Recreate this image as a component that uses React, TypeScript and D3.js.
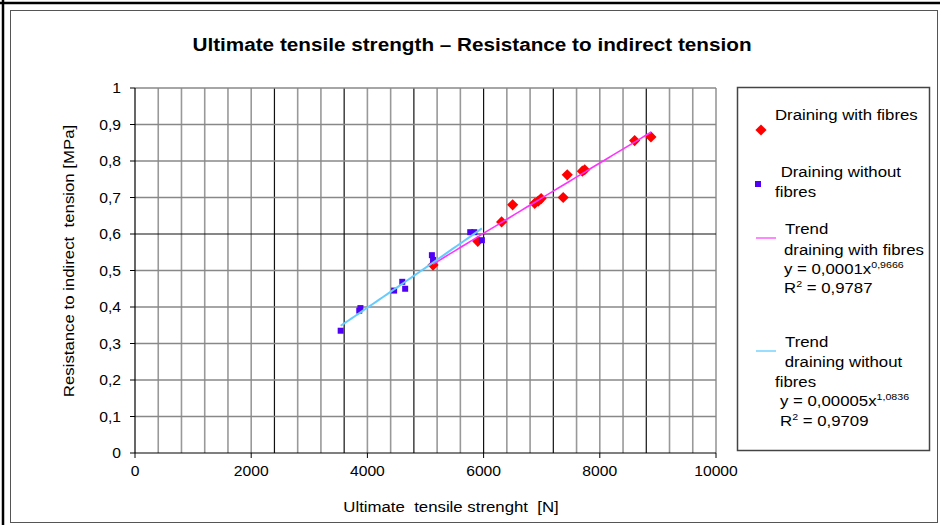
import * as d3 from "d3";

// Ultimate tensile strength [N] vs resistance to indirect tension [MPa]
const fibresX = [5130, 5900, 6310, 6500, 6880, 6940, 6990, 7370, 7440, 7700, 7740, 8600, 8880];
const fibresY = [0.515, 0.58, 0.633, 0.68, 0.684, 0.69, 0.697, 0.7, 0.762, 0.772, 0.776, 0.856, 0.866];
const noFibresX = [3540, 3860, 3880, 4460, 4600, 4650, 5110, 5130, 5770, 5840, 5970];
const noFibresY = [0.335, 0.39, 0.397, 0.445, 0.469, 0.45, 0.542, 0.529, 0.605, 0.605, 0.583];

const xTicks = [0, 2000, 4000, 6000, 8000, 10000];
const yTicks = [0, 0.1, 0.2, 0.3, 0.4, 0.5, 0.6, 0.7, 0.8, 0.9, 1];
const xGrid = d3.range(400, 10001, 400);
const xGridDark = [2400, 3600, 4800, 6000, 7200, 8800];
const yGridDark = [0.6];

const FONT = "'Liberation Sans', Arial, sans-serif";
const SX = 1.12; // the original text is stretched a bit horizontally

const x = d3.scaleLinear().domain([0, 10000]).range([135, 716]);
const y = d3.scaleLinear().domain([0, 1]).range([453, 88]);

// power trend y = a*x^b, least squares in log space
const powerFit = (xs: number[], ys: number[]) => {
    const lx = xs.map(Math.log);
    const ly = ys.map(Math.log);
    const mx = d3.mean(lx)!;
    const my = d3.mean(ly)!;
    const b = d3.sum(lx, (v, i) => (v - mx) * (ly[i] - my)) / d3.sum(lx, (v) => (v - mx) ** 2);
    const a = Math.exp(my - b * mx);
    const [x0, x1] = d3.extent(xs) as [number, number];
    return d3.range(0, 41).map((i) => {
        const xv = x0 + ((x1 - x0) * i) / 40;
        return [xv, a * Math.pow(xv, b)] as [number, number];
    });
};

const line = d3
    .line<[number, number]>()
    .x((d) => x(d[0]))
    .y((d) => y(d[1]));

const diamond = d3.symbol(d3.symbolDiamond2, 80)()!;

const T = (props: any) => {
    const { px, py, size = 15, anchor = "start", weight = "normal", rot = 0, children } = props;
    return (
        <text
            transform={`translate(${px},${py}) rotate(${rot}) scale(${SX},1)`}
            fontFamily={FONT}
            fontSize={size}
            fontWeight={weight}
            textAnchor={anchor}
            fill="#000"
        >
            {children}
        </text>
    );
};

const Sup = ({ base, sup, rest }: { base: string; sup: string; rest?: string }) => (
    <>
        <tspan>{base}</tspan>
        <tspan fontSize={9.5} dy={-6}>
            {sup}
        </tspan>
        {rest !== undefined && <tspan dy={6}>{rest}</tspan>}
    </>
);

export default function App() {
    const fibreTrend = powerFit(fibresX, fibresY);
    const noFibreTrend = powerFit(noFibresX, noFibresY);

    return (
        <svg
            width={942}
            height={525}
            style={{ position: "absolute", left: 0, top: 0, background: "#fff" }}
        >
            <rect x={0} y={0} width={942} height={525} fill="#fff" />
            {/* frame */}
            <line x1={0} y1={3} x2={940} y2={3} stroke="#000" strokeWidth={2.5} />
            <line x1={3} y1={0} x2={3} y2={525} stroke="#000" strokeWidth={2.5} />
            <rect x={10.5} y={10.5} width={927} height={512} fill="none" stroke="#555" strokeWidth={1} />

            <T px={472} py={51} size={18.5} weight="bold" anchor="middle">
                Ultimate tensile strength – Resistance to indirect tension
            </T>

            {/* grid */}
            <g>
                {xGrid.map((v) => (
                    <line
                        key={"gx" + v}
                        x1={x(v)}
                        x2={x(v)}
                        y1={y(1)}
                        y2={y(0)}
                        stroke={xGridDark.includes(v) ? "#111" : "#999"}
                        strokeWidth={xGridDark.includes(v) ? 1.2 : 1.6}
                    />
                ))}
                {yTicks.slice(1).map((v) => (
                    <line
                        key={"gy" + v}
                        x1={x(0)}
                        x2={x(10000)}
                        y1={y(v)}
                        y2={y(v)}
                        stroke={yGridDark.includes(v) ? "#111" : "#888"}
                        strokeWidth={yGridDark.includes(v) ? 1.2 : 1.6}
                    />
                ))}
            </g>

            {/* axes */}
            <line x1={x(0)} x2={x(0)} y1={y(1)} y2={y(0)} stroke="#000" strokeWidth={1.2} />
            <line x1={x(0)} x2={x(10000)} y1={y(0)} y2={y(0)} stroke="#000" strokeWidth={1.2} />
            {yTicks.map((v) => (
                <g key={"ty" + v}>
                    <line x1={x(0) - 5} x2={x(0)} y1={y(v)} y2={y(v)} stroke="#000" />
                    <T px={121} py={y(v) + 5} size={14} anchor="end">
                        {String(+v.toFixed(1)).replace(".", ",")}
                    </T>
                </g>
            ))}
            {xTicks.map((v) => (
                <g key={"tx" + v}>
                    <line x1={x(v)} x2={x(v)} y1={y(0)} y2={y(0) + 5} stroke="#000" />
                    <T px={x(v)} py={476} size={14} anchor="middle">
                        {String(v)}
                    </T>
                </g>
            ))}
            <T px={451} py={512} size={15} anchor="middle">
                Ultimate{"\u00a0\u00a0"}tensile strenght{"\u00a0\u00a0"}[N]
            </T>
            <T px={74} py={261} size={15} anchor="middle" rot={-90}>
                Resistance to indirect{"\u00a0\u00a0"}tension [MPa]
            </T>

            {/* points */}
            {fibresX.map((v, i) => (
                <path
                    key={"f" + i}
                    d={diamond}
                    transform={`translate(${x(v)},${y(fibresY[i])})`}
                    fill="#ff0000"
                />
            ))}
            {noFibresX.map((v, i) => (
                <rect
                    key={"n" + i}
                    x={x(v) - 3}
                    y={y(noFibresY[i]) - 3}
                    width={6}
                    height={6}
                    fill="#5000f5"
                />
            ))}

            {/* trend lines */}
            <path d={line(fibreTrend)!} fill="none" stroke="#ff33ff" strokeWidth={1.6} />
            <path d={line(noFibreTrend)!} fill="none" stroke="#66ccff" strokeWidth={2} />

            {/* legend */}
            <rect x={737.5} y={87.5} width={192} height={363} fill="#fff" stroke="#444" strokeWidth={1.5} />
            <path d={diamond} transform="translate(761,130)" fill="#ff0000" />
            <T px={775} py={120}>Draining with fibres</T>

            <rect x={755} y={181} width={6} height={6} fill="#5000f5" />
            <T px={776} py={177}>{"\u00a0Draining without"}</T>
            <T px={775} py={197}>fibres</T>

            <line x1={756} x2={776} y1={238} y2={238} stroke="#ff88ff" strokeWidth={2} />
            <T px={785} py={234}>Trend</T>
            <T px={784} py={255}>draining with fibres</T>
            <T px={784} py={274}>
                <Sup base="y = 0,0001x" sup="0,9666" />
            </T>
            <T px={784} py={293}>
                <Sup base="R" sup="2" rest=" = 0,9787" />
            </T>

            <line x1={756} x2={776} y1={351} y2={351} stroke="#99ddff" strokeWidth={2} />
            <T px={785} py={347}>Trend</T>
            <T px={780} py={367}>{"\u00a0draining without"}</T>
            <T px={775} py={387}>fibres</T>
            <T px={780} py={406}>
                <Sup base="y = 0,00005x" sup="1,0836" />
            </T>
            <T px={780} py={426}>
                <Sup base="R" sup="2" rest=" = 0,9709" />
            </T>
        </svg>
    );
}
